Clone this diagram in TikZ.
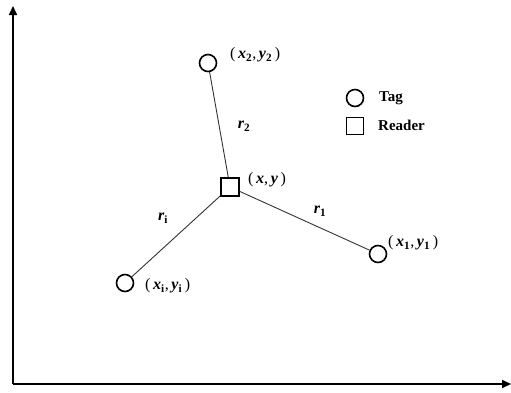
\documentclass[tikz,border=0pt]{standalone}
\usepackage{fontspec}
\setmainfont{Liberation Serif}
\usetikzlibrary{arrows.meta}
\newcommand{\bi}[1]{\textbf{\textit{#1}}}
\newcommand{\pt}[3]{(\,\bi{#1}\textsubscript{\textbf{#3}},\,\bi{#2}\textsubscript{\textbf{#3}}\,)}
\begin{document}
\begin{tikzpicture}[x=1pt,y=-1pt,
  tag/.style={circle,draw,line width=1.6pt,minimum size=17pt,inner sep=0pt},
  reader/.style={rectangle,draw,line width=1.3pt,minimum size=18pt,inner sep=0pt},
  lbl/.style={font=\fontsize{16}{18}\selectfont,inner sep=0pt},
  leg/.style={font=\fontsize{15}{17}\selectfont\bfseries,inner sep=0pt,anchor=base west},
  link/.style={line width=0.9pt,draw=black!80},
  axis/.style={line width=1.6pt,-{Triangle[length=9pt,width=8pt]}}]
\useasboundingbox (0,0) rectangle (511,392);
\coordinate (o) at (13,384);
\coordinate (ytop) at (13,6);
\coordinate (xend) at (511,384);
\draw[axis] (o) -- (ytop);
\draw[axis] (o) -- (xend);
\node[reader] (R) at (230,187) {};
\node[tag] (T2) at (208,63) {};
\node[tag] (T1) at (378,254) {};
\node[tag] (Ti) at (125,283) {};
\draw[link] (R) -- (T2);
\draw[link] (R) -- (T1);
\draw[link] (R) -- (Ti);
\node[lbl,anchor=west] (lR) at (248,180) {(\,\bi{x},\,\bi{y}\,)};
\node[lbl,anchor=west] (l2) at (230,55) {\pt{x}{y}{2}};
\node[lbl,anchor=west] (l1) at (388,243) {\pt{x}{y}{1}};
\node[lbl,anchor=west] (li) at (145,286) {\pt{x}{y}{i}};
\node[lbl] (r2) at (244,126) {\bi{r}\textsubscript{\textbf{2}}};
\node[lbl] (r1) at (320,211) {\bi{r}\textsubscript{\textbf{1}}};
\node[lbl] (ri) at (163,218) {\bi{r}\textsubscript{\textbf{i}}};
\node[tag] (legT) at (355,98) {};
\node[reader,minimum size=17pt] (legR) at (355,126) {};
\node[leg] (legTt) at (379,101) {Tag};
\node[leg] (legRt) at (378,130) {Reader};
\end{tikzpicture}
\end{document}
